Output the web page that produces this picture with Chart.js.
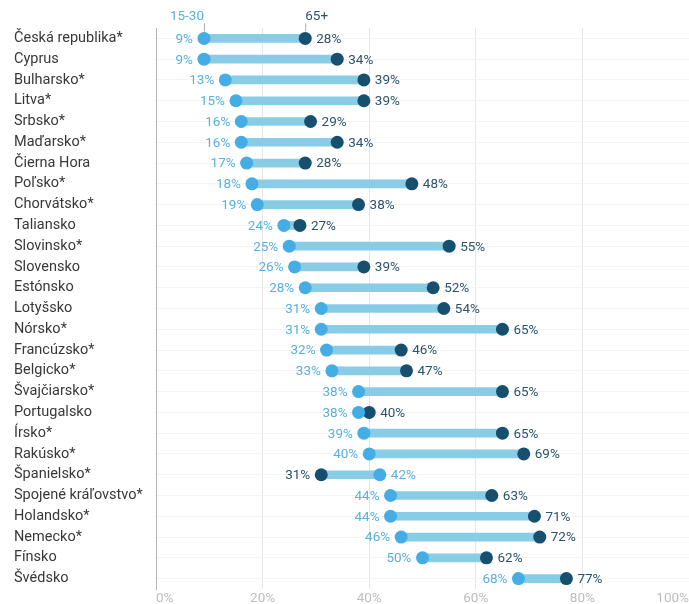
<!DOCTYPE html>
<html>
<head>
<meta charset="utf-8">
<script src="https://cdn.jsdelivr.net/npm/chart.js@4"></script>
<style>
  html, body { margin: 0; padding: 0; background: #fff; }
  #wrap { width: 689px; height: 604px; position: relative; }
</style>
</head>
<body>
<div id="wrap"><canvas id="chart"></canvas></div>
<script>
// ------------------ DONNÉES ------------------
const krajiny = ['Česká republika*', 'Cyprus', 'Bulharsko*', 'Litva*', 'Srbsko*', 'Maďarsko*', 'Čierna Hora',
    'Poľsko*', 'Chorvátsko*', 'Taliansko', 'Slovinsko*', 'Slovensko', 'Estónsko', 'Lotyšsko', 'Nórsko*',
    'Francúzsko*', 'Belgicko*', 'Švajčiarsko*', 'Portugalsko', 'Írsko*', 'Rakúsko*', 'Španielsko*',
    'Spojené kráľovstvo*', 'Holandsko*', 'Nemecko*', 'Fínsko', 'Švédsko'];
const mladi = [9, 9, 13, 15, 16, 16, 17, 18, 19, 24, 25, 26, 28, 31, 31, 32, 33, 38, 38, 39, 40, 42, 44, 44, 46, 50, 68];
const starsi = [28, 34, 39, 39, 29, 34, 28, 48, 38, 27, 55, 39, 52, 54, 65, 46, 47, 65, 40, 65, 69, 31, 63, 71, 72, 62, 77];
const xTicks = [0, 20, 40, 60, 80, 100];
const nazvySerii = ['15-30', '65+'];

const SVETLA = '#45ade6';
const TMAVA = '#17506e';
const SPOJNICA = '#88cce6';
const TEXT_SVETLY = '#58b1e0';
const TEXT_TMAVY = '#2c5468';

// Étiquettes des valeurs + en-tête des séries
const stitkyPlugin = {
    id: 'stitky',
    afterDatasetsDraw(chart) {
        const ctx = chart.ctx;
        const x = chart.scales.x;
        const y = chart.scales.y;
        ctx.save();
        ctx.font = '13.5px Roboto';
        ctx.textBaseline = 'middle';
        krajiny.forEach((k, i) => {
            const yy = y.getPixelForValue(i);
            const xm = x.getPixelForValue(mladi[i]);
            const xs = x.getPixelForValue(starsi[i]);
            const mladiVlavo = mladi[i] <= starsi[i];
            ctx.fillStyle = TEXT_SVETLY;
            ctx.textAlign = mladiVlavo ? 'right' : 'left';
            ctx.fillText(mladi[i] + '%', xm + (mladiVlavo ? -11 : 11), yy + 1);
            ctx.fillStyle = TEXT_TMAVY;
            ctx.textAlign = mladiVlavo ? 'left' : 'right';
            ctx.fillText(starsi[i] + '%', xs + (mladiVlavo ? 11 : -11), yy + 1);
        });
        // en-tête
        const y0 = y.getPixelForValue(0);
        const xm0 = x.getPixelForValue(mladi[0]);
        const xs0 = x.getPixelForValue(starsi[0]);
        ctx.strokeStyle = '#aaaaaa';
        ctx.lineWidth = 1;
        ctx.beginPath();
        ctx.moveTo(xm0 + 0.5, y0 - 15);
        ctx.lineTo(xm0 + 0.5, y0 - 7);
        ctx.moveTo(xs0 + 0.5, y0 - 15);
        ctx.lineTo(xs0 + 0.5, y0 - 7);
        ctx.stroke();
        ctx.textBaseline = 'alphabetic';
        ctx.fillStyle = TEXT_SVETLY;
        ctx.textAlign = 'right';
        ctx.fillText(nazvySerii[0], xm0, y0 - 18);
        ctx.fillStyle = TEXT_TMAVY;
        ctx.textAlign = 'left';
        ctx.fillText(nazvySerii[1], xs0, y0 - 18);
        ctx.restore();
    }
};

const ctx = document.getElementById('chart').getContext('2d');
new Chart(ctx, {
    type: 'bar',
    data: {
        labels: krajiny,
        datasets: [
            {
                type: 'line',
                label: nazvySerii[1],
                data: starsi,
                showLine: false,
                pointRadius: 6.5,
                pointHoverRadius: 6.5,
                pointBackgroundColor: TMAVA,
                pointBorderWidth: 0,
                order: 1
            },
            {
                type: 'line',
                label: nazvySerii[0],
                data: mladi,
                showLine: false,
                pointRadius: 6.5,
                pointHoverRadius: 6.5,
                pointBackgroundColor: SVETLA,
                pointBorderWidth: 0,
                order: 0
            },
            {
                label: 'rozdiel',
                data: mladi.map((m, i) => [m, starsi[i]]),
                backgroundColor: SPOJNICA,
                barThickness: 8,
                borderSkipped: false,
                order: 2
            }
        ]
    },
    options: {
        indexAxis: 'y',
        responsive: true,
        maintainAspectRatio: false,
        animation: false,
        layout: { autoPadding: false, padding: { left: 14, top: 28, right: 0, bottom: 0 } },
        plugins: {
            legend: { display: false },
            tooltip: { enabled: false }
        },
        scales: {
            x: {
                min: 0,
                max: 100,
                afterBuildTicks: s => { s.ticks = xTicks.map(v => ({ value: v })); },
                afterFit: s => { s.height = 15; s.paddingLeft = 0; s.paddingRight = 0; },
                grid: { color: '#e6e6e6', drawTicks: false },
                border: { display: false },
                ticks: {
                    color: '#bdbdbd',
                    align: 'inner',
                    padding: 2,
                    font: { family: 'Roboto', size: 13.5 },
                    callback: v => v + '%'
                }
            },
            y: {
                afterFit: s => { s.width = 142; s.paddingTop = 0; s.paddingBottom = 0; },
                grid: { color: '#f3f3f3', offset: false, drawTicks: false },
                border: { color: '#b5b5b5', width: 1 },
                ticks: {
                    color: '#383838',
                    crossAlign: 'far',
                    padding: 0,
                    autoSkip: false,
                    font: { family: 'Roboto', size: 14.5 }
                }
            }
        }
    },
    plugins: [stitkyPlugin]
});
</script>
</body>
</html>
